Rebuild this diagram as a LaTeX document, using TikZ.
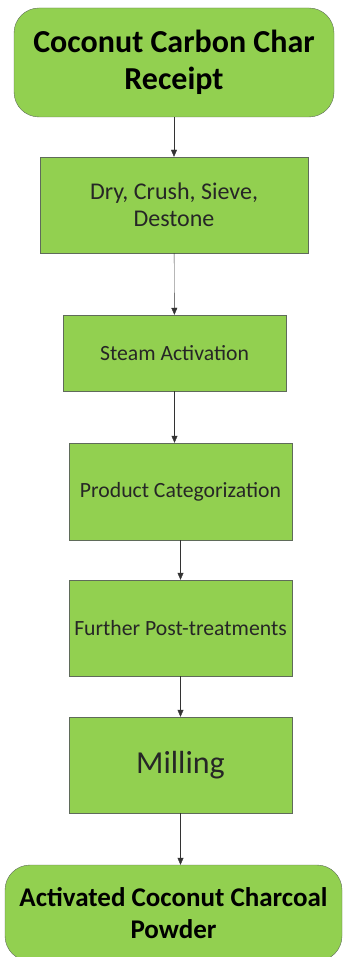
\documentclass[tikz,border=0pt]{standalone}
\usepackage{fontspec}
\setmainfont{Carlito}
\usetikzlibrary{positioning,arrows.meta}

\definecolor{stepgreen}{HTML}{92D050}
\definecolor{stepline}{HTML}{5F6B5A}

\begin{document}
\begin{tikzpicture}[
        x=1pt, y=-1pt,
        proc/.style={
            rectangle, draw=stepline, fill=stepgreen, thin,
            text=black!85, align=center, inner sep=2pt,
            font=\fontsize{21.7}{26}\selectfont
        },
        term/.style={
            proc, rounded corners=25pt, text=black,
            font=\fontsize{32}{37}\selectfont\bfseries
        },
        link/.style={-{Triangle[length=7pt,width=6pt]}, draw=black!80, thin}
      ]
  \useasboundingbox (0,0) rectangle (343,957);

  \node[term, minimum width=320pt, minimum height=109pt] (receipt) at (174,62.5)
        {Coconut Carbon Char\\Receipt};
  \node[proc, minimum width=268pt, minimum height=96pt,
        font=\fontsize{24}{27}\selectfont] (crush) at (174,205)
        {Dry, Crush, Sieve,\\Destone};
  \node[proc, minimum width=223pt, minimum height=76pt] (steam) at (174.5,353)
        {Steam Activation};
  \node[proc, minimum width=223pt, minimum height=97pt] (categ) at (180.5,491.5)
        {Product Categorization};
  \node[proc, minimum width=223pt, minimum height=96pt] (post) at (180.5,628)
        {Further Post-treatments};
  \node[proc, minimum width=223pt, minimum height=96pt,
        font=\fontsize{32}{36}\selectfont] (mill) at (180.5,765)
        {Milling};
  \node[term, minimum width=337pt, minimum height=96pt,
        font=\fontsize{27}{32}\selectfont\bfseries] (powder) at (173.5,913)
        {Activated Coconut Charcoal\\Powder};

  \draw[link] (receipt) -- (crush);
  \draw[link] (crush) -- (steam);
  \draw[link] (steam.south) -- (steam.south |- categ.north);
  \draw[link] (categ) -- (post);
  \draw[link] (post) -- (mill);
  \draw[link] (mill.south) -- (mill.south |- powder.north);
\end{tikzpicture}
\end{document}
